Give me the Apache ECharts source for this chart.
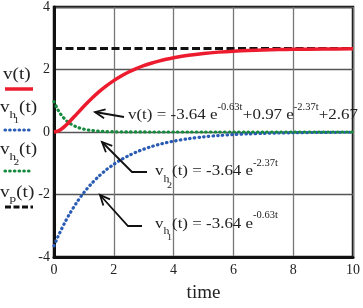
<!DOCTYPE html>
<html>
<head>
<meta charset="utf-8">
<script src="https://cdn.jsdelivr.net/npm/echarts@6/dist/echarts.min.js"></script>
<style>
  html, body { margin: 0; padding: 0; background: #fff; }
  #chart { width: 363px; height: 308px; }
</style>
</head>
<body>
<div id="chart"></div>
<script>
// values
const times = [0, 0.125, 0.25, 0.375, 0.5, 0.75, 1, 1.25, 1.5, 1.75, 2, 2.25, 2.5, 2.75, 3, 3.25, 3.5, 3.75, 4, 4.5, 5, 5.5, 6, 6.5, 7, 7.5, 8, 9, 10];
const vTotal = [0, 0.027, 0.096, 0.195, 0.311, 0.565, 0.822, 1.064, 1.283, 1.476, 1.645, 1.793, 1.919, 2.027, 2.121, 2.2, 2.269, 2.327, 2.377, 2.456, 2.514, 2.556, 2.587, 2.609, 2.626, 2.638, 2.646, 2.657, 2.663];
const vH1 = [-3.64, -3.364, -3.11, -2.874, -2.656, -2.269, -1.939, -1.656, -1.415, -1.209, -1.033, -0.882, -0.754, -0.644, -0.55, -0.47, -0.401, -0.343, -0.293, -0.214, -0.156, -0.114, -0.083, -0.061, -0.044, -0.032, -0.024, -0.013, -0.007];
const vH2 = [0.97, 0.721, 0.536, 0.399, 0.297, 0.164, 0.091, 0.05, 0.028, 0.015, 0.008, 0.005, 0.003, 0.001, 0.001, 0, 0, 0, 0, 0, 0, 0, 0, 0, 0, 0, 0, 0, 0];
const pTimes = [0, 10];
const vP = [2.67, 2.67];
const xTicks = [0, 2, 4, 6, 8, 10];
const yTicks = [-4, -2, 0, 2, 4];

const RED = '#ec1c2e';
const BLUE = '#2a5cb4';
const GREEN = '#168a3e';
const INK = '#222';
const SERIF = '"Liberation Serif", "DejaVu Serif", serif';

function pairs(xs, ys) {
  return xs.map((x, i) => [x, ys[i]]);
}

const chart = echarts.init(document.getElementById('chart'));

// text with sub/superscripts laid out piece by piece
// part: [text, fontSize, baseline shift, x shift, horizontal stretch]
const measure = document.createElement('canvas').getContext('2d');
function textRun(x, base, sx, parts) {
  const out = [];
  parts.forEach(function(p) {
    const t = p[0], size = p[1], dy = p[2] || 0, dx = p[3] || 0, s = p[4] || sx;
    x += dx;
    out.push({
      type: 'text', z: 100, x: x, y: base + dy - 0.34 * size, scaleX: s,
      style: { text: t, fontFamily: SERIF, fontSize: size, fill: INK, verticalAlign: 'middle', align: 'left' }
    });
    measure.font = size + 'px ' + SERIF;
    x += measure.measureText(t).width * s;
  });
  return out;
}

function arrow(points) {
  const tip = points[points.length - 1];
  const prev = points[points.length - 2];
  const dx = tip[0] - prev[0], dy = tip[1] - prev[1];
  const len = Math.hypot(dx, dy);
  const ux = dx / len, uy = dy / len;
  const h = 10, w = 4.5;
  const a = [tip[0] - ux * h - uy * w, tip[1] - uy * h + ux * w];
  const b = [tip[0] - ux * h + uy * w, tip[1] - uy * h - ux * w];
  const st = { stroke: '#111', lineWidth: 1.8, fill: null };
  return [
    { type: 'polyline', z: 100, shape: { points: points }, style: st },
    { type: 'polyline', z: 100, shape: { points: [a, tip, b] }, style: st }
  ];
}

function legendLine(y, color, dash, width, cap) {
  return {
    type: 'polyline', z: 100,
    shape: { points: [[5, y], [33, y]] },
    style: { stroke: color, lineWidth: width, lineDash: dash, lineCap: cap || 'butt', fill: null }
  };
}

const LS = 1.2;  // legend text stretch
const AS = 1.13; // annotation text stretch
const graphics = [].concat(
  textRun(3, 80, LS, [['v(t)', 16]]),
  [legendLine(89, RED, null, 3.5)],
  textRun(0, 113, LS, [['v', 16], ['h', 11, 6], ['1', 9, 11, -2.5], ['(t)', 16]]),
  [legendLine(130, BLUE, [0.5, 4.2], 3.2, 'round')],
  textRun(0, 155, LS, [['v', 16], ['h', 11, 6], ['2', 9, 10.5, -2.5], ['(t)', 16]]),
  [legendLine(171, GREEN, [0.5, 4.2], 3.2, 'round')],
  textRun(0, 198, LS, [['v', 16], ['p', 11, 5], ['(t)', 16]]),
  [legendLine(207, '#111', [6, 2.5], 3)],

  textRun(128, 120, AS, [['v(t) = -3.64 e', 15], ['-0.63t', 10.5, -9, 0, 1], ['+0.97 e', 15, 0, 0.5], ['-2.37t', 10.5, -9, 0, 1], ['+2.67', 15]]),
  textRun(155, 176, AS, [['v', 15], ['h', 10.5, 6.5], ['2', 9, 12.5, -2.5], ['(t) = -3.64 e', 15], ['-2.37t', 10.5, -9, 0, 1]]),
  textRun(155, 229, AS, [['v', 15], ['h', 10.5, 6], ['1', 9, 12, -2.5], ['(t) = -3.64 e', 15], ['-0.63t', 10.5, -10, 0, 1]]),

  arrow([[124, 117], [95, 112]]),
  arrow([[147, 172], [132, 172], [102, 142]]),
  arrow([[142, 226], [128, 226], [100, 195]])
);

const option = {
  animation: false,
  backgroundColor: '#fff',
  grid: {
    left: 54, right: 5, top: 6, bottom: 36,
    show: true, borderColor: '#111', borderWidth: 2.5
  },
  xAxis: {
    type: 'value',
    min: xTicks[0], max: xTicks[xTicks.length - 1], interval: 2,
    name: 'time', nameLocation: 'middle', nameGap: 27,
    nameTextStyle: { fontFamily: SERIF, fontSize: 19, color: INK },
    axisLine: { onZero: false, lineStyle: { color: '#111', width: 3 } },
    axisTick: { show: false },
    axisLabel: { fontFamily: SERIF, fontSize: 14, color: INK, margin: 6 },
    splitLine: { lineStyle: { color: '#777', width: 1.3 } }
  },
  yAxis: {
    type: 'value',
    min: yTicks[0], max: yTicks[yTicks.length - 1], interval: 2,
    axisLine: { show: true, lineStyle: { color: '#111', width: 3 } },
    axisTick: { show: false },
    axisLabel: { fontFamily: SERIF, fontSize: 14, color: INK, margin: 4 },
    splitLine: { lineStyle: { color: '#555', width: 1.3 } }
  },
  series: [
    {
      name: 'vh1', type: 'line', data: pairs(times, vH1), showSymbol: false, smooth: 0.3,
      lineStyle: { color: BLUE, width: 3.2, type: [0.5, 4.2], cap: 'round' }, z: 3
    },
    {
      name: 'vh2', type: 'line', data: pairs(times, vH2), showSymbol: false, smooth: 0.3,
      lineStyle: { color: GREEN, width: 3.2, type: [0.5, 4.2], cap: 'round' }, z: 3
    },
    {
      name: 'vp', type: 'line', data: pairs(pTimes, vP), showSymbol: false,
      lineStyle: { color: '#111', width: 3, type: [8, 3.5] }, z: 4
    },
    {
      name: 'v', type: 'line', data: pairs(times, vTotal), showSymbol: false, smooth: 0.3,
      lineStyle: { color: RED, width: 3.5 }, z: 5
    }
  ],
  graphic: graphics
};
chart.setOption(option);
</script>
</body>
</html>
